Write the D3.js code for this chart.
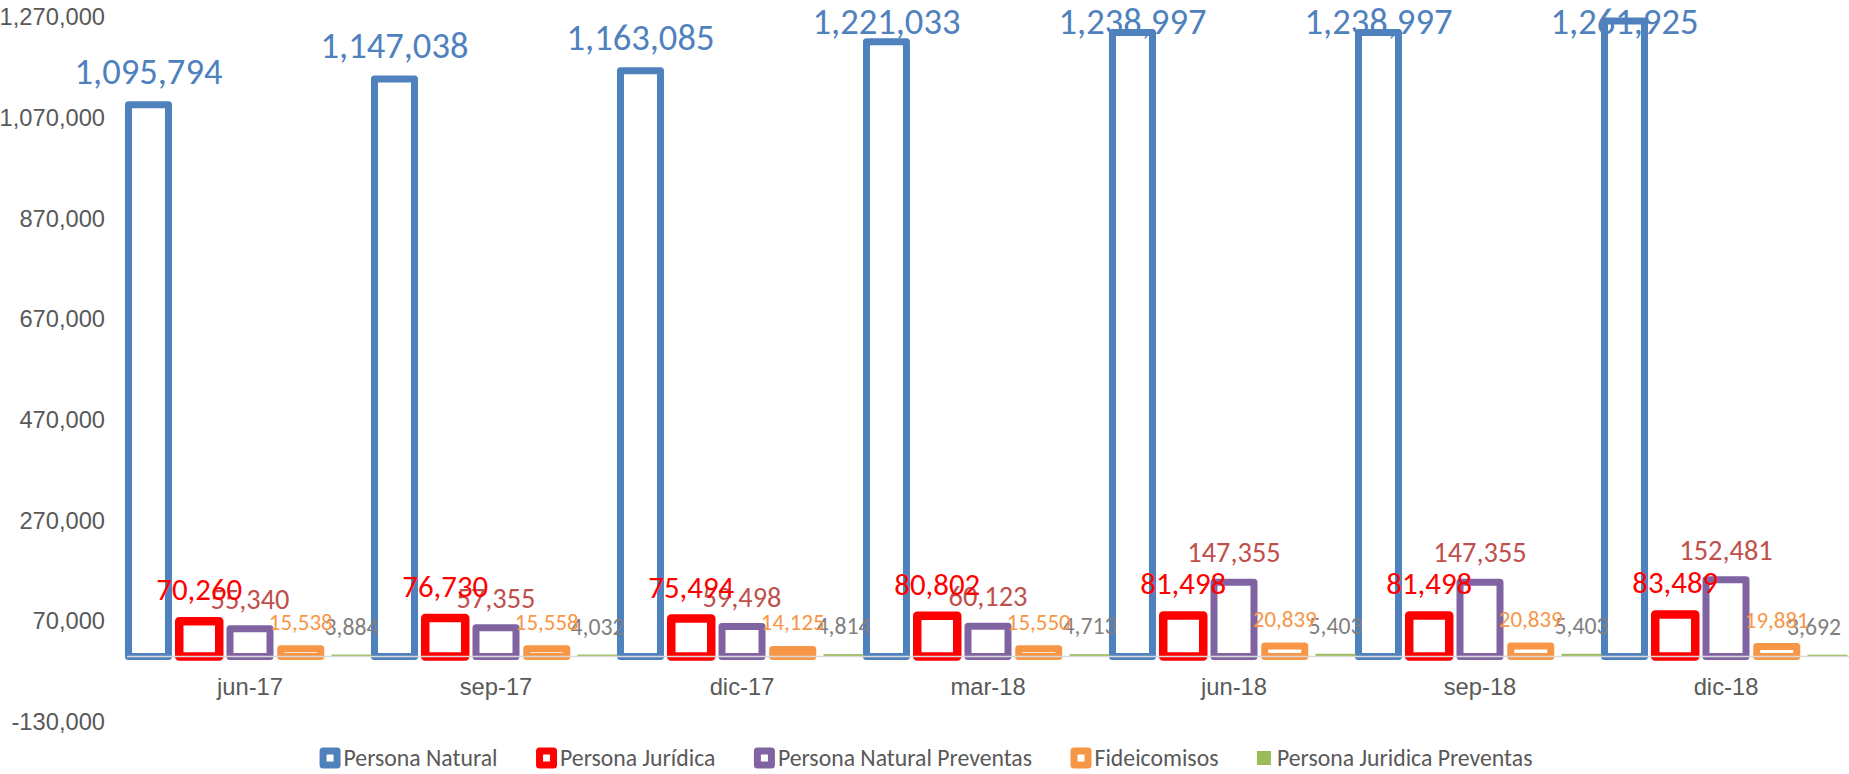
<!DOCTYPE html>
<html lang="es">
<head>
    <meta charset="UTF-8">
    <title>Clientes por tipo</title>
    <style>
        body {
            margin: 0;
            padding: 0;
            background-color: #fff;
        }
        svg {
            display: block;
            font-family: Calibri, Carlito, Lato, sans-serif;
        }
        .tick text {
            fill: #595959;
        }
    </style>
    <script src="https://d3js.org/d3.v7.min.js"></script>
</head>
<body>
    <div id="chart"></div>

    <script>
        // datos
        const categories = ["jun-17", "sep-17", "dic-17", "mar-18", "jun-18", "sep-18", "dic-18"];
        const personaNatural = [1095794, 1147038, 1163085, 1221033, 1238997, 1238997, 1261925];
        const personaJuridica = [70260, 76730, 75494, 80802, 81498, 81498, 83489];
        const personaNaturalPreventas = [55340, 57355, 59498, 60123, 147355, 147355, 152481];
        const fideicomisos = [15538, 15558, 14125, 15550, 20839, 20839, 19881];
        const personaJuridicaPreventas = [3884, 4032, 4814, 4713, 5403, 5403, 3692];
        const yTicks = [-130000, 70000, 270000, 470000, 670000, 870000, 1070000, 1270000];

        // fit = ancho que ocupa la etiqueta de ejemplo en la imagen original
        const series = [
            { name: "Persona Natural", values: personaNatural, color: "#4F81BD", stroke: 7, label: "#4F81BD", fit: 148, off: 21 },
            { name: "Persona Jurídica", values: personaJuridica, color: "#FF0000", stroke: 8.5, label: "#FF0000", fit: 86, off: 21 },
            { name: "Persona Natural Preventas", values: personaNaturalPreventas, color: "#8064A2", stroke: 7, label: "#C0504D", fit: 79, off: 20 },
            { name: "Fideicomisos", values: fideicomisos, color: "#F79646", stroke: 7, label: "#F79646", fit: 64, off: 19 },
            { name: "Persona Juridica Preventas", values: personaJuridicaPreventas, color: "#9BBB59", stroke: 0, label: "#7F7F7F", fit: 54, off: 20 }
        ];

        const width = 1849;
        const height = 774;
        // guion normal para los negativos, como en Excel
        const fmt = d3.formatLocale({ decimal: ".", thousands: ",", grouping: [3], currency: ["$", ""], minus: "-" }).format(",");

        const svg = d3.select("#chart").append("svg")
            .attr("width", width)
            .attr("height", height);

        // tamaño de letra para que un texto mida lo mismo que en la imagen
        function fitSize(str, target) {
            const t = svg.append("text").attr("font-size", 100).text(str);
            const len = t.node().getComputedTextLength();
            t.remove();
            return 100 * target / len;
        }

        const tickSize = fitSize("70,000", 66);
        const catSize = fitSize("jun-17", 62);
        const legendSize = fitSize("Persona Natural", 154);
        series.forEach(s => { s.size = fitSize(fmt(s.values[0]), s.fit); });

        const x = d3.scaleBand()
            .domain(categories)
            .range([127, 1849])
            .padding(0);

        const x1 = d3.scaleBand()
            .domain(series.map(s => s.name))
            .range([-126.9, 126.9])
            .padding(0);

        const y = d3.scaleLinear()
            .domain([-130000, 1270000])
            .range([722, 17]);

        const barW = 40;

        // eje y
        const yAxis = svg.append("g")
            .attr("transform", "translate(105,0)")
            .call(d3.axisLeft(y).tickValues(yTicks).tickFormat(fmt).tickSize(0).tickPadding(0));
        yAxis.select(".domain").remove();
        yAxis.selectAll("text").attr("font-size", tickSize);

        // eje x
        const xAxis = svg.append("g")
            .attr("transform", `translate(0,${y(0)})`)
            .call(d3.axisBottom(x).tickSize(0));
        xAxis.select(".domain").remove();
        xAxis.selectAll("text")
            .attr("font-size", catSize)
            .attr("y", 38)
            .attr("dy", 0);

        // barras
        series.forEach(s => {
            svg.append("g")
                .selectAll("rect")
                .data(s.values)
                .join("rect")
                .attr("x", (d, i) => x(categories[i]) + x.bandwidth() / 2 + x1(s.name) + (x1.bandwidth() - barW) / 2)
                .attr("y", d => y(d))
                .attr("width", barW)
                .attr("height", d => y(0) - y(d))
                .attr("fill", s.stroke ? "#fff" : s.color)
                .attr("stroke", s.stroke ? s.color : "none")
                .attr("stroke-width", s.stroke)
                .attr("stroke-linejoin", "round");
        });

        // linea del cero
        svg.append("line")
            .attr("x1", 127)
            .attr("x2", width)
            .attr("y1", y(0))
            .attr("y2", y(0))
            .attr("stroke", "#D9D9D9")
            .attr("stroke-width", 1.5);

        // etiquetas (las primeras series quedan encima)
        series.slice().reverse().forEach(s => {
            svg.append("g")
                .selectAll("text")
                .data(s.values)
                .join("text")
                .attr("x", (d, i) => x(categories[i]) + x.bandwidth() / 2 + x1(s.name) + x1.bandwidth() / 2)
                .attr("y", d => Math.max(y(d) - s.off, 34))
                .attr("text-anchor", "middle")
                .attr("font-size", s.size)
                .attr("fill", s.label)
                .text(d => fmt(d))
                .each(function() {
                    // que no se salga por la derecha
                    const w = this.getComputedTextLength();
                    const cx = +this.getAttribute("x");
                    if (cx + w / 2 > width - 8) this.setAttribute("x", width - 8 - w / 2);
                });
        });

        // leyenda
        const legend = svg.append("g").attr("transform", "translate(0,758)");
        const items = legend.selectAll("g")
            .data(series)
            .join("g");

        items.each(function(s) {
            const g = d3.select(this);
            if (s.stroke) {
                g.append("rect")
                    .attr("x", 3.5).attr("y", -7)
                    .attr("width", 14).attr("height", 14)
                    .attr("fill", "#fff")
                    .attr("stroke", s.color)
                    .attr("stroke-width", 7)
                    .attr("stroke-linejoin", "round");
            } else {
                g.append("rect")
                    .attr("x", 0).attr("y", -7)
                    .attr("width", 14).attr("height", 14)
                    .attr("fill", s.color);
            }
            g.append("text")
                .attr("x", s.stroke ? 24 : 20)
                .attr("dy", "0.35em")
                .attr("font-size", legendSize)
                .attr("fill", "#595959")
                .text(s.name);
        });

        let pos = 0;
        const offsets = [];
        items.each(function() {
            const w = this.getBBox().width;
            offsets.push(pos);
            pos += w + 42;
        });
        const total = pos - 42;
        const start = 926 - total / 2;
        items.attr("transform", (d, i) => `translate(${start + offsets[i]},0)`);
    </script>
</body>
</html>
